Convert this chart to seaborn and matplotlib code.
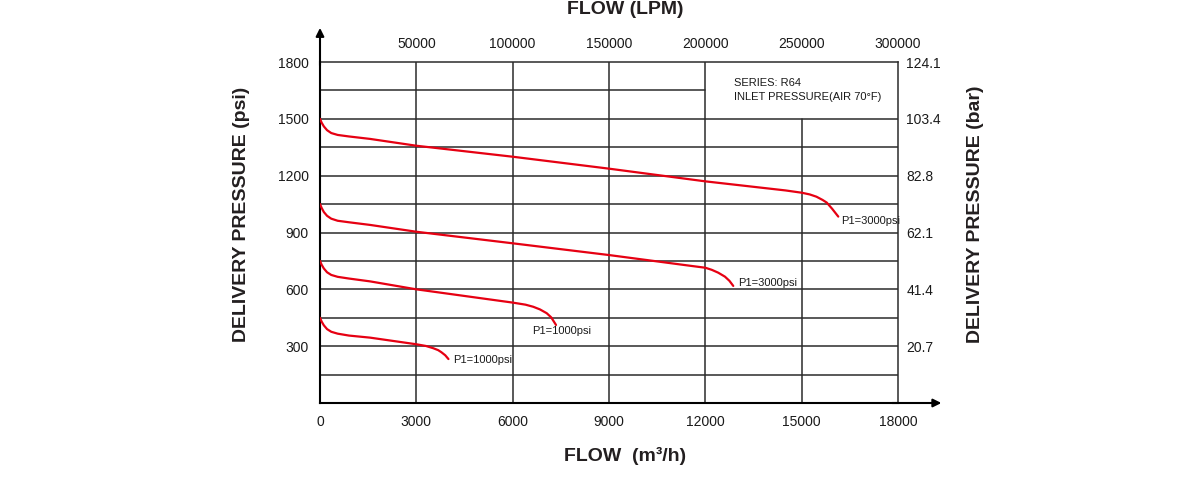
import matplotlib
matplotlib.use("Agg")
import matplotlib.pyplot as plt
import seaborn as sns
import pandas as pd

# ---- data ----
flow1 = [0, 50, 120, 220, 350, 550, 900, 1560, 3000, 6000, 9000, 12000, 14500, 15000,
         15250, 15460, 15650, 15780, 15950, 16140]
p1 = [1500, 1480, 1460, 1440, 1425, 1415, 1407, 1394, 1358, 1300, 1237, 1170, 1122, 1110,
      1101, 1089, 1072, 1058, 1025, 984]
flow2 = [0, 50, 120, 220, 350, 550, 900, 1560, 3000, 6000, 9000, 11500, 12000, 12200,
         12400, 12610, 12750, 12870]
p2 = [1050, 1030, 1008, 988, 973, 962, 954, 940, 904, 843, 781, 725, 714, 703,
      688, 667, 645, 618]
flow3 = [0, 50, 120, 220, 350, 550, 900, 1560, 3000, 6000, 6400, 6640, 6850, 7060, 7200, 7350]
p3 = [750, 730, 710, 690, 676, 666, 657, 642, 600, 530, 519, 508, 494, 474, 452, 412]
flow4 = [0, 50, 120, 220, 350, 550, 900, 1560, 3000, 3300, 3530, 3680, 3780, 3900, 4000]
p4 = [450, 430, 410, 390, 376, 366, 356, 345, 310, 301, 289, 279, 268, 252, 232]
curve_labels = ["P1=3000psi", "P1=3000psi", "P1=1000psi", "P1=1000psi"]

psi_ticks = [300, 600, 900, 1200, 1500, 1800]
bar_labels = ["20.7", "41.4", "62.1", "82.8", "103.4", "124.1"]
m3h_ticks = [0, 3000, 6000, 9000, 12000, 15000, 18000]
lpm_ticks = [3000, 6000, 9000, 12000, 15000, 18000]
lpm_labels = ["50000", "100000", "150000", "200000", "250000", "300000"]

frames = []
for i, (f, p) in enumerate([(flow1, p1), (flow2, p2), (flow3, p3), (flow4, p4)]):
    frames.append(pd.DataFrame({"flow": f, "psi": p, "curve": i}))
df = pd.concat(frames, ignore_index=True)

sns.set_style("white")
plt.rcParams["font.family"] = ["Liberation Sans", "DejaVu Sans"]

fig = plt.figure(figsize=(12, 4.82), dpi=100)
ax = fig.add_axes([320 / 1200, 79 / 482, 578 / 1200, 341 / 482])

RED = "#e60012"
GRID = "#2b2b2b"
TXT = "#1a1a1a"

sns.lineplot(data=df, x="flow", y="psi", units="curve", estimator=None, sort=False,
             color=RED, linewidth=1.6, ax=ax, zorder=5, legend=False)

ax.set_xlim(0, 18000)
ax.set_ylim(0, 1800)

# grid
for yv in range(150, 1650, 150):
    ax.plot([0, 18000], [yv, yv], color=GRID, lw=1.1, zorder=2)
ax.plot([0, 12000], [1650, 1650], color=GRID, lw=1.1, zorder=2)
for xv in [3000, 6000, 9000, 12000]:
    ax.plot([xv, xv], [0, 1800], color=GRID, lw=1.1, zorder=2)
ax.plot([15000, 15000], [0, 1500], color=GRID, lw=1.1, zorder=2)

for s in ["top", "right"]:
    ax.spines[s].set_color(GRID)
    ax.spines[s].set_linewidth(1.1)
for s in ["left", "bottom"]:
    ax.spines[s].set_color("black")
    ax.spines[s].set_linewidth(1.5)

# arrows
ax.annotate("", xy=(0, 1.10), xytext=(0, 0.99), xycoords="axes fraction",
            arrowprops=dict(arrowstyle="-|>", color="black", lw=1.5, mutation_scale=12,
                            shrinkA=0, shrinkB=0), annotation_clip=False)
ax.annotate("", xy=(1.075, 0), xytext=(0.99, 0), xycoords="axes fraction",
            arrowprops=dict(arrowstyle="-|>", color="black", lw=1.5, mutation_scale=12,
                            shrinkA=0, shrinkB=0), annotation_clip=False)

ax.set_xticks(m3h_ticks)
ax.set_xticklabels([str(v) for v in m3h_ticks])
ax.set_yticks(psi_ticks)
ax.set_yticklabels([str(v) for v in psi_ticks])
ax.tick_params(axis="x", length=0, pad=8.5, labelsize=10, colors=TXT)
ax.tick_params(axis="y", length=0, pad=8, labelsize=10, colors=TXT)
ax.set_xlabel("")
ax.set_ylabel("")

ax2 = ax.twinx()
ax2.set_ylim(0, 1800)
ax2.set_yticks(psi_ticks)
ax2.set_yticklabels(bar_labels)
ax2.tick_params(axis="y", length=0, pad=6, labelsize=10, colors=TXT)
for s in ax2.spines.values():
    s.set_visible(False)

ax3 = ax.twiny()
ax3.set_xlim(0, 18000)
ax3.set_xticks(lpm_ticks)
ax3.set_xticklabels(lpm_labels)
ax3.tick_params(axis="x", length=0, pad=8, labelsize=10, colors=TXT)
for s in ax3.spines.values():
    s.set_visible(False)

# curve labels
label_pos = [(16225, 962), (13018, 635), (6612, 381), (4132, 225)]
for (lx, ly), txt in zip(label_pos, curve_labels):
    ax.text(lx, ly, txt, fontsize=8, va="center", ha="left", color=TXT, zorder=6)

# info box text
ax.text(12890, 1690, "SERIES: R64", fontsize=8, va="center", ha="left", color=TXT)
ax.text(12890, 1615, "INLET PRESSURE(AIR 70\u00b0F)", fontsize=8, va="center", ha="left",
        color=TXT)

# axis titles
fig.text(625 / 1200, 1 - 9 / 482, "FLOW (LPM)", fontsize=14, fontweight="bold",
         ha="center", va="center", color="#231f20")
fig.text(625 / 1200, 1 - 456 / 482, "FLOW  (m\u00b3/h)", fontsize=14, fontweight="bold",
         ha="center", va="center", color="#231f20")
fig.text(241 / 1200, 1 - 214 / 482, "DELIVERY PRESSURE (psi)", fontsize=14,
         fontweight="bold", ha="center", va="center", rotation=90, color="#231f20")
fig.text(975 / 1200, 1 - 214 / 482, "DELIVERY PRESSURE (bar)", fontsize=14,
         fontweight="bold", ha="center", va="center", rotation=90, color="#231f20")

fig.savefig("out.png", dpi=100)
